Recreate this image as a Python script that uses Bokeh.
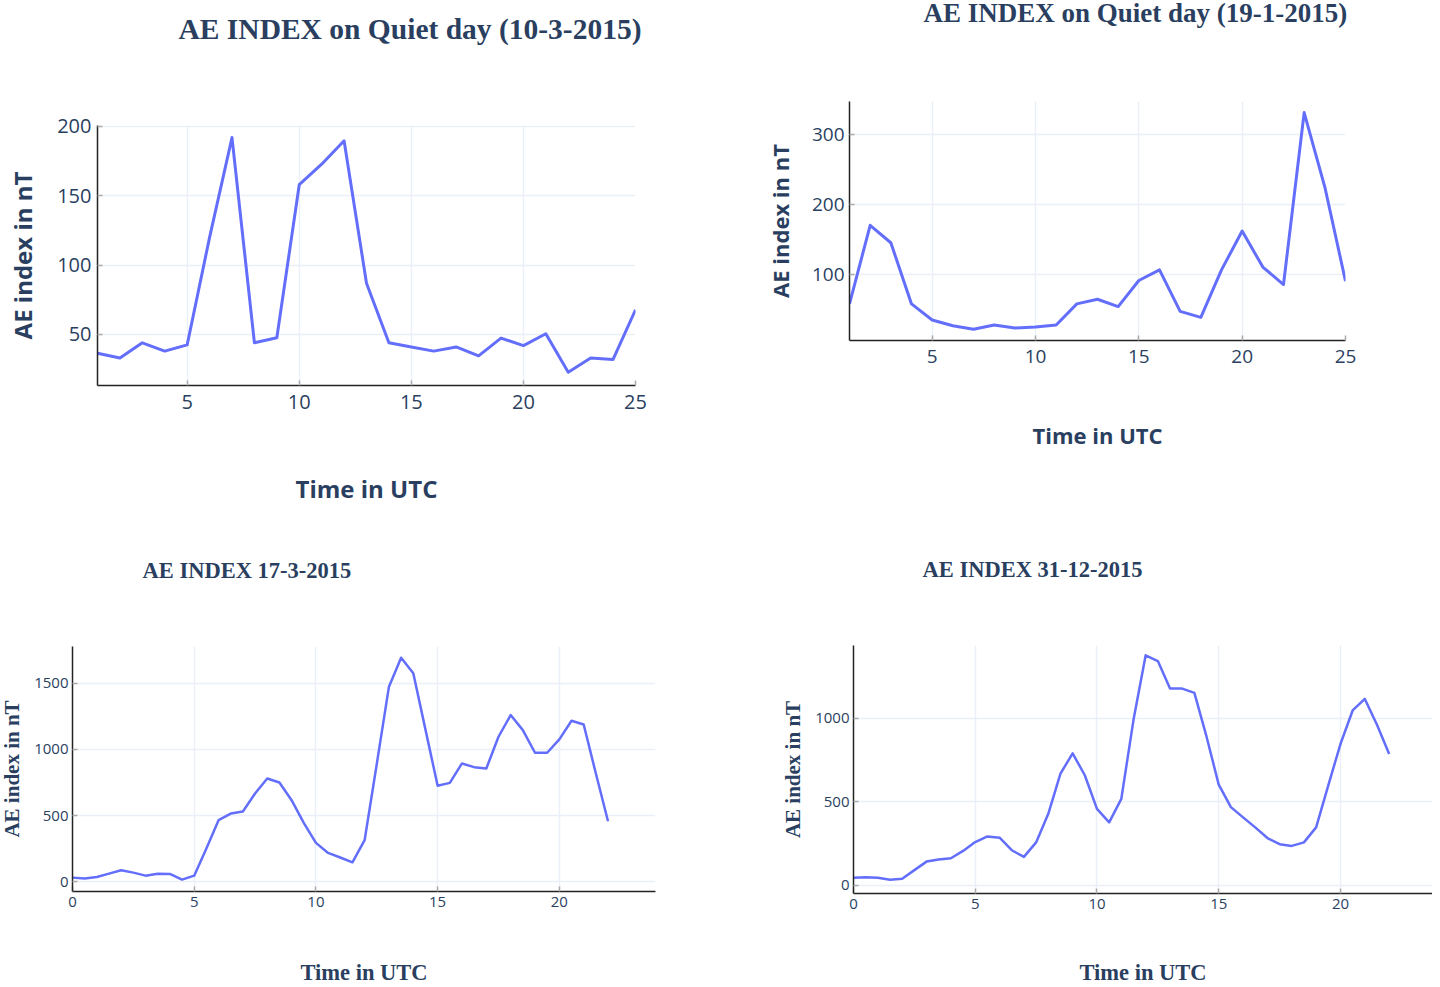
from bokeh.plotting import figure
from bokeh.models import Range1d, FixedTicker
from bokeh.embed import file_html
from bokeh.resources import INLINE

# ---------------- data ----------------
hours_10_3 = [1, 2, 3, 4, 5, 6, 7, 8, 9, 10, 11, 12, 13, 14, 15, 16, 17, 18, 19, 20, 21, 22, 23, 24, 25]
ae_10_3 = [36.5, 33, 44, 38, 42.5, 120, 192, 44, 47.6, 158, 172.8, 189.7, 87, 44, 41, 38, 41, 34.6,
           47.4, 42, 50.5, 22.8, 33, 32, 67.8]

hours_19_1 = [1, 2, 3, 4, 5, 6, 7, 8, 9, 10, 11, 12, 13, 14, 15, 16, 17, 18, 19, 20, 21, 22, 23, 24, 25]
ae_19_1 = [58.6, 170.5, 145.7, 58.6, 35.7, 27.6, 22.4, 28.6, 24.3, 25.7, 28.6, 58.6, 65.2, 54.8, 91.9,
           107, 48, 39.5, 107, 162.4, 111, 86.2, 331, 225, 91]

hours_17_3 = [0, 0.5, 1, 1.5, 2, 2.5, 3, 3.5, 4, 4.5, 5, 5.5, 6, 6.5, 7, 7.5, 8, 8.5, 9, 9.5,
              10, 10.5, 11, 11.5, 12, 12.5, 13, 13.5, 14, 14.5, 15, 15.5, 16, 16.5, 17, 17.5,
              18, 18.5, 19, 19.5, 20, 20.5, 21, 21.5, 22]
ae_17_3 = [30, 23, 35, 60, 86, 68, 45, 60, 58, 15, 45, 250, 465, 515, 530, 667, 780, 750, 616, 444,
           293, 217, 182, 146, 313, 890, 1475, 1694, 1576, 1150, 725, 747, 894, 866, 856, 1096,
           1260, 1146, 975, 975, 1076, 1217, 1189, 818, 457]

hours_31_12 = [0, 0.5, 1, 1.5, 2, 2.5, 3, 3.5, 4, 4.5, 5, 5.5, 6, 6.5, 7, 7.5, 8, 8.5, 9, 9.5,
               10, 10.5, 11, 11.5, 12, 12.5, 13, 13.5, 14, 14.5, 15, 15.5, 16, 16.5, 17, 17.5,
               18, 18.5, 19, 19.5, 20, 20.5, 21, 21.5, 22]
ae_31_12 = [46, 50, 46, 34, 40, 92, 143, 155, 163, 207, 260, 294, 286, 211, 171, 258, 429, 670, 791, 660,
            459, 378, 519, 992, 1378, 1344, 1179, 1179, 1153, 891, 604, 469, 408, 348, 284, 247,
            237, 258, 348, 600, 847, 1048, 1117, 962, 787]

xticks_top = [5, 10, 15, 20, 25]
yticks_10_3 = [50, 100, 150, 200]
yticks_19_1 = [100, 200, 300]
xticks_bottom = [0, 5, 10, 15, 20]
yticks_17_3 = [0, 500, 1000, 1500]
yticks_31_12 = [0, 500, 1000]

titles = ["AE INDEX on Quiet day (10-3-2015)", "AE INDEX on Quiet day (19-1-2015)",
          "AE INDEX  17-3-2015", "AE INDEX  31-12-2015"]
x_label = "Time in UTC"
y_label = "AE index in nT"

NAVY = "#2a3f5f"
LINE = "#636efa"
GRID = "#ebf0f8"


def panel(x, y, xr, yr, xt, yt, left, top, bl, fw, br, bt, fh, bb,
          title, tsize, toffset, tstand,
          lab_font, ylab_size, xlab_size, ylab_stand, xlab_stand,
          tick_size, ytick_stand, xtick_stand, lw):
    p = figure(width=bl + fw + br, height=bt + fh + bb,
               min_border_left=bl, min_border_right=br, min_border_top=bt, min_border_bottom=bb,
               x_range=Range1d(*xr), y_range=Range1d(*yr),
               output_backend="svg", toolbar_location=None,
               background_fill_color=None, border_fill_color=None,
               styles={"position": "absolute", "left": f"{left}px", "top": f"{top}px"})
    p.outline_line_color = None
    p.line(x, y, line_color=LINE, line_width=lw, line_join="round")

    p.title.text = title
    p.title.text_font = "Liberation Serif"
    p.title.text_font_style = "bold"
    p.title.text_font_size = f"{tsize}px"
    p.title.text_color = NAVY
    p.title.align = "left"
    p.title.offset = toffset
    p.title.standoff = tstand

    p.xaxis.ticker = FixedTicker(ticks=xt)
    p.yaxis.ticker = FixedTicker(ticks=yt)
    for ax in (p.xaxis[0], p.yaxis[0]):
        ax.axis_line_color = "#222222"
        ax.axis_line_width = 1.5
        ax.major_tick_in = 5
        ax.major_tick_out = 0
        ax.major_tick_line_color = "#aaaaaa"
        ax.major_tick_line_width = 1.5
        ax.minor_tick_line_color = None
        ax.major_label_text_font = "Open Sans"
        ax.major_label_text_font_size = f"{tick_size}px"
        ax.major_label_text_color = NAVY
        ax.axis_label_text_font = lab_font
        ax.axis_label_text_font_style = "bold"
        ax.axis_label_text_color = NAVY
    p.xaxis.axis_label = x_label
    p.yaxis.axis_label = y_label
    p.xaxis.axis_label_text_font_size = f"{xlab_size}px"
    p.yaxis.axis_label_text_font_size = f"{ylab_size}px"
    p.xaxis.axis_label_standoff = xlab_stand
    p.yaxis.axis_label_standoff = ylab_stand
    p.xaxis.major_label_standoff = xtick_stand
    p.yaxis.major_label_standoff = ytick_stand
    p.xgrid.grid_line_color = GRID
    p.ygrid.grid_line_color = GRID
    p.xgrid.grid_line_width = 1.5
    p.ygrid.grid_line_width = 1.5
    return p


p1 = panel(hours_10_3, ae_10_3, (1, 25), (13.2, 200.7), xticks_top, yticks_10_3,
           3, -75, 94, 538, 85, 200, 260, 143,
           titles[0], 29.5, 81, 162,
           "Open Sans", 24, 24, 15, 60, 20, 6, 9, 3)
p2 = panel(hours_19_1, ae_19_1, (1, 25), (6.5, 346.8), xticks_top, yticks_19_1,
           720, -84, 129, 496, 87, 185, 239, 188,
           titles[1], 27, 74, 148,
           "Open Sans", 22, 22, 14, 54, 19, 5, 9, 3)
p3 = panel(hours_17_3, ae_17_3, (0, 23.95), (-75, 1779), xticks_bottom, yticks_17_3,
           -3, 486, 75, 583, 65, 160, 246, 95,
           titles[2], 22.5, 70, 127,
           "Liberation Serif", 21, 22.5, 7, 50, 15, 4, 5, 2.5)
p4 = panel(hours_31_12, ae_31_12, (0, 23.78), (-48, 1437), xticks_bottom, yticks_31_12,
           720, 485, 133, 579, 0, 160, 248, 94,
           titles[3], 22.5, 69, 127,
           "Liberation Serif", 21, 22.5, 7, 48, 15, 4, 5, 2.5)

open("out.html", "w").write(file_html([p1, p2, p3, p4], INLINE))
